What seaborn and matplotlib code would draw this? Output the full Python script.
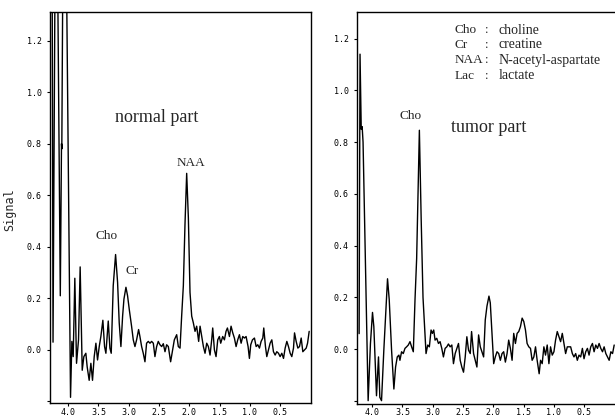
import matplotlib
matplotlib.use("Agg")
import matplotlib.pyplot as plt
import seaborn as sns
import pandas as pd

# ---------------- data (chemical shift in ppm, signal) ----------------
normal_ppm = [4.27, 4.25, 4.20, 4.13, 4.11, 4.105, 4.08, 4.05, 3.961, 3.939, 3.917, 3.890,
              3.862, 3.829, 3.802, 3.768, 3.741, 3.708, 3.686, 3.653, 3.625, 3.598, 3.570,
              3.542, 3.515, 3.487, 3.460, 3.427, 3.399, 3.377, 3.338, 3.311, 3.289, 3.256,
              3.217, 3.184, 3.157, 3.129, 3.101, 3.079, 3.046, 3.019, 2.991, 2.953, 2.925,
              2.897, 2.870, 2.837, 2.815, 2.787, 2.760, 2.732, 2.705, 2.677, 2.649, 2.622,
              2.594, 2.567, 2.539, 2.512, 2.484, 2.456, 2.429, 2.401, 2.374, 2.346, 2.308,
              2.275, 2.247, 2.208, 2.181, 2.153, 2.126, 2.098, 2.071, 2.043, 2.015, 1.988,
              1.960, 1.933, 1.905, 1.878, 1.845, 1.822, 1.795, 1.767, 1.740, 1.712, 1.685,
              1.657, 1.630, 1.613, 1.585, 1.558, 1.530, 1.503, 1.481, 1.448, 1.420, 1.393,
              1.370, 1.337, 1.310, 1.282, 1.255, 1.227, 1.200, 1.172, 1.144, 1.117, 1.089,
              1.062, 1.029, 1.007, 0.985, 0.957, 0.924, 0.896, 0.869, 0.841, 0.814, 0.786,
              0.770, 0.742, 0.720, 0.692, 0.665, 0.637, 0.610, 0.582, 0.555, 0.527, 0.500,
              0.472, 0.444, 0.417, 0.389, 0.362, 0.334, 0.307, 0.279, 0.262, 0.235, 0.207,
              0.180, 0.152, 0.125, 0.097, 0.069, 0.047, 0.020]
normal_sig = [2.0, 0.03, 2.2, 0.21, 0.80, 0.78, 1.8, 2.0, -0.184, 0.033, -0.026, 0.278,
              -0.052, 0.039, 0.322, -0.079, -0.026, -0.013, -0.066, -0.118, -0.052, -0.118, -0.026,
              0.026, -0.039, 0.013, 0.052, 0.115, 0.013, -0.013, 0.112, 0.007, -0.013, 0.249,
              0.370, 0.262, 0.105, 0.013, 0.131, 0.197, 0.243, 0.210, 0.157, 0.092, 0.039,
              0.013, 0.039, 0.079, 0.052, 0.013, -0.013, -0.046, 0.026, 0.033, 0.026, 0.033,
              0.026, -0.026, 0.013, 0.033, 0.020, 0.013, 0.024, -0.007, 0.020, 0.013, -0.046,
              0.000, 0.039, 0.059, 0.013, 0.007, 0.131, 0.249, 0.486, 0.685, 0.512, 0.223,
              0.131, 0.105, 0.072, 0.092, 0.033, 0.092, 0.052, 0.013, -0.013, 0.026, 0.013,
              -0.020, 0.039, 0.085, 0.000, -0.026, 0.039, 0.052, 0.026, 0.052, 0.039, 0.072,
              0.085, 0.052, 0.092, 0.066, 0.046, 0.013, 0.039, 0.059, 0.026, 0.052, 0.046,
              0.052, 0.013, -0.033, 0.020, 0.039, 0.046, 0.013, 0.020, 0.007, 0.033, 0.046,
              0.085, 0.013, -0.026, 0.000, 0.026, 0.039, -0.007, -0.020, -0.007, -0.013, -0.026,
              -0.013, -0.033, 0.007, 0.033, 0.013, -0.013, -0.026, 0.007, 0.066, 0.033, 0.007,
              0.013, 0.046, -0.007, 0.000, 0.007, 0.026, 0.072]

tumor_ppm = [4.215, 4.20, 4.18, 4.165, 4.15, 4.066, 4.028, 3.994, 3.972, 3.928, 3.895, 3.873,
             3.845, 3.807, 3.779, 3.746, 3.718, 3.679, 3.641, 3.613, 3.585, 3.558, 3.541,
             3.514, 3.486, 3.458, 3.431, 3.403, 3.375, 3.348, 3.320, 3.292, 3.265, 3.22,
             3.19, 3.16, 3.110, 3.082, 3.055, 3.027, 3.005, 2.983, 2.961, 2.933, 2.905,
             2.878, 2.850, 2.823, 2.795, 2.767, 2.740, 2.712, 2.684, 2.657, 2.629, 2.601,
             2.574, 2.546, 2.519, 2.491, 2.463, 2.436, 2.408, 2.380, 2.358, 2.325, 2.297,
             2.270, 2.242, 2.214, 2.187, 2.159, 2.132, 2.104, 2.071, 2.049, 2.021, 1.993,
             1.966, 1.938, 1.910, 1.883, 1.855, 1.828, 1.800, 1.772, 1.745, 1.717, 1.689,
             1.662, 1.634, 1.606, 1.579, 1.551, 1.523, 1.496, 1.468, 1.441, 1.413, 1.385,
             1.358, 1.330, 1.302, 1.275, 1.242, 1.219, 1.192, 1.164, 1.137, 1.109, 1.081,
             1.054, 1.026, 0.998, 0.971, 0.943, 0.915, 0.888, 0.860, 0.833, 0.805, 0.777,
             0.750, 0.722, 0.694, 0.667, 0.639, 0.612, 0.584, 0.556, 0.528, 0.501, 0.473,
             0.445, 0.418, 0.390, 0.362, 0.335, 0.307, 0.279, 0.252, 0.224, 0.196, 0.169,
             0.141, 0.113, 0.086, 0.058, 0.030, 0.003]
tumor_sig = [0.06, 1.14, 0.85, 0.86, 0.80, -0.199, 0.022, 0.142, 0.087, -0.180, -0.030, -0.186,
             -0.199, -0.004, 0.126, 0.272, 0.192, -0.004, -0.154, -0.069, -0.030, -0.023, -0.043,
             -0.010, -0.017, 0.003, 0.009, 0.016, 0.029, 0.009, -0.010, 0.192, 0.35, 0.846,
             0.50, 0.20, -0.017, 0.016, 0.009, 0.074, 0.061, 0.074, 0.035, 0.042, 0.022,
             0.029, 0.003, -0.030, 0.003, 0.009, 0.020, 0.009, 0.016, -0.056, -0.017, 0.003,
             0.022, -0.043, -0.069, -0.089, -0.030, 0.048, -0.004, -0.017, 0.068, -0.017, -0.043,
             -0.069, 0.055, 0.009, -0.010, -0.030, 0.113, 0.166, 0.205, 0.179, 0.061, -0.056,
             -0.030, -0.010, -0.017, -0.043, -0.017, -0.010, -0.050, -0.017, 0.035, 0.003, -0.043,
             0.061, 0.022, 0.061, 0.068, 0.087, 0.120, 0.107, 0.074, 0.022, 0.009, 0.003,
             -0.043, -0.030, 0.009, -0.043, -0.095, -0.043, -0.056, 0.009, -0.023, 0.016, -0.056,
             0.009, -0.023, -0.010, 0.035, 0.068, 0.048, 0.029, 0.061, 0.022, -0.017, 0.009,
             0.009, 0.009, -0.017, -0.030, -0.017, -0.043, -0.023, -0.030, 0.003, -0.037, -0.010,
             0.003, -0.023, 0.009, 0.022, -0.010, 0.016, 0.003, 0.022, 0.003, -0.010, 0.009,
             -0.017, -0.030, -0.043, -0.010, -0.017, 0.016]

x_ticks = [4.0, 3.5, 3.0, 2.5, 2.0, 1.5, 1.0, 0.5]
x_labels = ["4.0", "3.5", "3.0", "2.5", "2.0", "1.5", "1.0", "0.5"]
y_ticks = [-0.2, 0.0, 0.2, 0.4, 0.6, 0.8, 1.0, 1.2]
y_labels = ["", "0.0", "0.2", "0.4", "0.6", "0.8", "1.0", "1.2"]

legend_abbr = ["Cho", "Cr", "NAA", "Lac"]
legend_desc = ["choline", "creatine", "N-acetyl-aspartate", "lactate"]

# ---------------- style ----------------
sns.set_style("ticks")
plt.rcParams["font.family"] = ["DejaVu Sans Mono", "DejaVu Sans"]
SERIF = ["Liberation Serif", "DejaVu Serif"]

fig = plt.figure(figsize=(6.15, 4.18), dpi=100)
ax1 = fig.add_axes([50 / 615, 15 / 418, 261 / 615, 391 / 418])
ax2 = fig.add_axes([357 / 615, 14.5 / 418, 261 / 615, 391.5 / 418])

df_n = pd.DataFrame({"ppm": normal_ppm, "signal": normal_sig})
df_t = pd.DataFrame({"ppm": tumor_ppm, "signal": tumor_sig})

sns.lineplot(data=df_n, x="ppm", y="signal", ax=ax1, color="black", lw=1.0,
             sort=False, estimator=None)
sns.lineplot(data=df_t, x="ppm", y="signal", ax=ax2, color="black", lw=1.0,
             sort=False, estimator=None)

for ax, xl, yl in [(ax1, (4.30, -0.01), (-0.206, 1.311)),
                   (ax2, (4.25, -0.06), (-0.21, 1.303))]:
    ax.set_xlim(*xl)
    ax.set_ylim(*yl)
    ax.set_xticks(x_ticks)
    ax.set_xticklabels(x_labels)
    ax.set_yticks(y_ticks)
    ax.set_yticklabels(y_labels)
    ax.tick_params(direction="out", length=2.0, width=0.8, labelsize=6,
                   colors="black")
    ax.tick_params(axis="x", pad=1.5)
    ax.tick_params(axis="y", pad=4)
    ax.set_xlabel("")
    ax.set_ylabel("")
    for s in ax.spines.values():
        s.set_visible(True)
        s.set_linewidth(1.0)
        s.set_color("black")

fig.text(10 / 615, (418 - 210) / 418, "Signal", rotation=90, ha="center",
         va="center", fontsize=8.5, family=["DejaVu Sans Mono"])

# left panel annotations
ax1.text(2.543, 0.90, "normal part", family=SERIF, fontsize=13, ha="center", va="center")
ax1.text(1.98, 0.725, "NAA", family=SERIF, fontsize=9.5, ha="center", va="center")
ax1.text(3.36, 0.442, "Cho", family=SERIF, fontsize=9.5, ha="center", va="center")
ax1.text(2.95, 0.306, "Cr", family=SERIF, fontsize=9.5, ha="center", va="center")

# right panel annotations
ax2.text(3.36, 0.90, "Cho", family=SERIF, fontsize=9.5, ha="center", va="center")
ax2.text(2.07, 0.857, "tumor part", family=SERIF, fontsize=13, ha="center", va="center")
ys = [0.954, 0.916, 0.877, 0.837]
for abbr, desc, yy in zip(legend_abbr, legend_desc, ys):
    ax2.text(0.375, yy, abbr, transform=ax2.transAxes, family=SERIF, fontsize=9.5,
             ha="left", va="center")
    ax2.text(0.497, yy, ":", transform=ax2.transAxes, family=SERIF, fontsize=9.5,
             ha="center", va="center")
    ax2.text(0.544, yy, desc, transform=ax2.transAxes, family=SERIF, fontsize=10,
             ha="left", va="center")

fig.savefig("out.png", dpi=100)
